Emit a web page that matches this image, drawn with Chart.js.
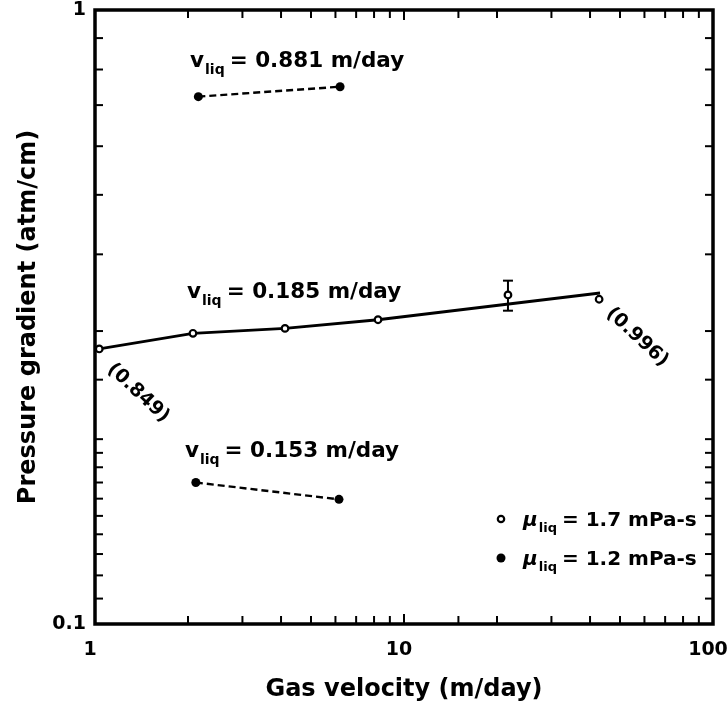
<!DOCTYPE html>
<html>
<head>
<meta charset="utf-8">
<script src="https://cdn.jsdelivr.net/npm/chart.js@4.4.1/dist/chart.umd.min.js"></script>
<style>
  html, body { margin: 0; padding: 0; background: #fff; }
</style>
</head>
<body>
<canvas id="chart" width="727" height="711"></canvas>
<script>
// Values (log-log axes)

// solid line through the 1.7 mPa-s runs (v_liq = 0.185 m/day)
const fitX = [1.032, 2.075, 4.12, 8.24, 43.1];
const fitY = [0.2805, 0.2975, 0.303, 0.313, 0.346];

// open circles, mu_liq = 1.7 mPa-s
const openX = [1.032, 2.075, 4.12, 8.24, 21.7, 42.8];
const openY = [0.2805, 0.2975, 0.303, 0.313, 0.3435, 0.338];
// error bar on the fifth open circle
const errIndex = 4;
const errLow = 0.3238;
const errHigh = 0.3624;

// filled circles, mu_liq = 1.2 mPa-s
const highX = [2.16, 6.21];   // v_liq = 0.881 m/day
const highY = [0.7226, 0.750];
const lowX = [2.12, 6.16];    // v_liq = 0.153 m/day
const lowY = [0.170, 0.1596];

// v_liq labels, anchored in data space (start of the "v", baseline)
const vliqText = ['0.881', '0.185', '0.153'];
const vliqAtX = [2.03, 1.985, 1.955];
const vliqAtY = [0.808, 0.3397, 0.187];

// slanted labels at the ends of the solid line
const endLabels = ['(0.849)', '(0.996)'];
const endLabelIndex = [0, 5];

const legendText = ['1.7 mPa-s', '1.2 mPa-s'];

const xTickLabels = [1, 10, 100];
const yTickLabels = [0.1, 1];

const FONT = '"DejaVu Sans", sans-serif';
Chart.defaults.font.family = FONT;
Chart.defaults.color = '#000';

function toPoints(xs, ys) {
    return xs.map((v, i) => ({ x: v, y: ys[i] }));
}

function isOneOf(list, v) {
    return list.some(t => Math.abs(t - v) < 1e-9);
}

function isDecade(v) {
    const l = Math.log10(v);
    return Math.abs(l - Math.round(l)) < 1e-9;
}

function seg(ctx, x1, y1, x2, y2) {
    ctx.beginPath();
    ctx.moveTo(x1, y1);
    ctx.lineTo(x2, y2);
    ctx.stroke();
}

// text with a "liq" subscript after the first glyph
function subText(ctx, x, y, head, tail, size, italic) {
    ctx.font = (italic ? 'italic ' : '') + 'bold ' + size + 'px ' + FONT;
    ctx.fillText(head, x, y);
    let cx = x + ctx.measureText(head).width + 1;
    ctx.font = 'bold ' + Math.round(size * 0.66) + 'px ' + FONT;
    ctx.fillText('liq', cx, y + size * 0.32);
    cx += ctx.measureText('liq').width + 5;
    ctx.font = 'bold ' + size + 'px ' + FONT;
    ctx.fillText(tail, cx, y);
}

const figurePlugin = {
    id: 'figure',
    beforeDatasetsDraw(chart) {
        const { ctx, chartArea: a, scales: { x, y } } = chart;
        ctx.save();
        ctx.strokeStyle = '#000';
        ctx.lineWidth = 2;

        // inward ticks on all four sides
        x.ticks.forEach(t => {
            const px = x.getPixelForValue(t.value);
            const len = isDecade(t.value) ? 10 : 8;
            seg(ctx, px, a.bottom, px, a.bottom - len);
            seg(ctx, px, a.top, px, a.top + len);
        });
        y.ticks.forEach(t => {
            const py = y.getPixelForValue(t.value);
            const len = isDecade(t.value) ? 10 : 8;
            seg(ctx, a.left, py, a.left + len, py);
            seg(ctx, a.right, py, a.right - len, py);
        });

        // error bar
        const ex = x.getPixelForValue(openX[errIndex]);
        const eTop = y.getPixelForValue(errHigh);
        const eBot = y.getPixelForValue(errLow);
        seg(ctx, ex, eTop, ex, eBot);
        seg(ctx, ex - 5, eTop, ex + 5, eTop);
        seg(ctx, ex - 5, eBot, ex + 5, eBot);

        // frame
        ctx.lineWidth = 3.5;
        ctx.strokeRect(a.left, a.top, a.right - a.left, a.bottom - a.top);
        ctx.restore();
    },
    afterDatasetsDraw(chart) {
        const { ctx, chartArea: a, scales: { x, y } } = chart;
        ctx.save();
        ctx.fillStyle = '#000';
        ctx.textBaseline = 'alphabetic';
        ctx.textAlign = 'left';

        vliqText.forEach((t, i) => {
            subText(ctx, x.getPixelForValue(vliqAtX[i]), y.getPixelForValue(vliqAtY[i]),
                'v', '= ' + t + ' m/day', 21.5, false);
        });

        // slanted end labels
        ctx.font = 'bold 19px ' + FONT;
        ctx.textAlign = 'center';
        ctx.textBaseline = 'middle';
        const shifts = [[39, 44], [38, 38]];
        endLabels.forEach((t, i) => {
            const k = endLabelIndex[i];
            const px = x.getPixelForValue(openX[k]) + shifts[i][0];
            const py = y.getPixelForValue(openY[k]) + shifts[i][1];
            ctx.save();
            ctx.translate(px, py);
            ctx.rotate(43 * Math.PI / 180);
            ctx.fillText(t, 0, 0);
            ctx.restore();
        });

        // legend
        ctx.textAlign = 'left';
        ctx.textBaseline = 'alphabetic';
        const lx = a.right - 212;
        const rows = [a.bottom - 105, a.bottom - 66];
        rows.forEach((ry, i) => {
            ctx.beginPath();
            if (i === 0) {
                ctx.lineWidth = 2.2;
                ctx.fillStyle = '#fff';
                ctx.arc(lx, ry, 3.2, 0, Math.PI * 2);
                ctx.fill();
                ctx.stroke();
            } else {
                ctx.fillStyle = '#000';
                ctx.arc(lx, ry, 4.5, 0, Math.PI * 2);
                ctx.fill();
            }
            ctx.fillStyle = '#000';
            subText(ctx, lx + 22, ry + 7, '\u03bc', '= ' + legendText[i], 20, true);
        });
        ctx.restore();
    }
};

const openStyle = {
    showLine: false,
    pointRadius: 3.3,
    pointBorderWidth: 2.2,
    pointBorderColor: '#000',
    pointBackgroundColor: '#fff',
    clip: false
};

const dashedStyle = {
    showLine: true,
    borderColor: '#000',
    borderWidth: 2.4,
    borderDash: [7, 4],
    pointRadius: 4.5,
    pointBorderWidth: 0,
    pointBackgroundColor: '#000',
    clip: false
};

new Chart(document.getElementById('chart'), {
    type: 'scatter',
    data: {
        datasets: [
            Object.assign({ label: 'mu 1.7', data: toPoints(openX, openY) }, openStyle),
            Object.assign({ label: 'v 0.881', data: toPoints(highX, highY) }, dashedStyle),
            Object.assign({ label: 'v 0.153', data: toPoints(lowX, lowY) }, dashedStyle),
            {
                label: 'fit',
                data: toPoints(fitX, fitY),
                showLine: true,
                borderColor: '#000',
                borderWidth: 2.8,
                pointRadius: 0,
                clip: false
            }
        ]
    },
    options: {
        responsive: false,
        animation: false,
        layout: { padding: { top: 10, right: 14, left: 0, bottom: 0 } },
        plugins: {
            legend: { display: false },
            tooltip: { enabled: false }
        },
        scales: {
            x: {
                type: 'logarithmic',
                min: 1,
                max: 100,
                grid: { display: false, drawTicks: false },
                border: { display: false },
                ticks: {
                    autoSkip: false,
                    maxRotation: 0,
                    padding: 15,
                    labelOffset: -5,
                    color: '#000',
                    font: { size: 19, weight: 'bold' },
                    callback: v => isOneOf(xTickLabels, v) ? String(v) : ''
                },
                title: {
                    display: true,
                    text: 'Gas velocity (m/day)',
                    color: '#000',
                    font: { size: 24, weight: 'bold' },
                    padding: { top: 0, bottom: 7 }
                },
                afterFit(s) {
                    s.height = 87;
                    s.paddingLeft = 0;
                    s.paddingRight = 0;
                }
            },
            y: {
                type: 'logarithmic',
                min: 0.1,
                max: 1,
                grid: { display: false, drawTicks: false },
                border: { display: false },
                ticks: {
                    autoSkip: false,
                    padding: 9,
                    color: '#000',
                    font: { size: 19, weight: 'bold' },
                    callback: v => isOneOf(yTickLabels, v) ? String(v) : ''
                },
                title: {
                    display: true,
                    text: 'Pressure gradient (atm/cm)',
                    color: '#000',
                    font: { size: 24, weight: 'bold' },
                    padding: { top: 14, bottom: 0 }
                },
                afterFit(s) {
                    s.width = 95;
                    s.paddingTop = 0;
                    s.paddingBottom = 0;
                }
            }
        }
    },
    plugins: [figurePlugin]
});
</script>
</body>
</html>
